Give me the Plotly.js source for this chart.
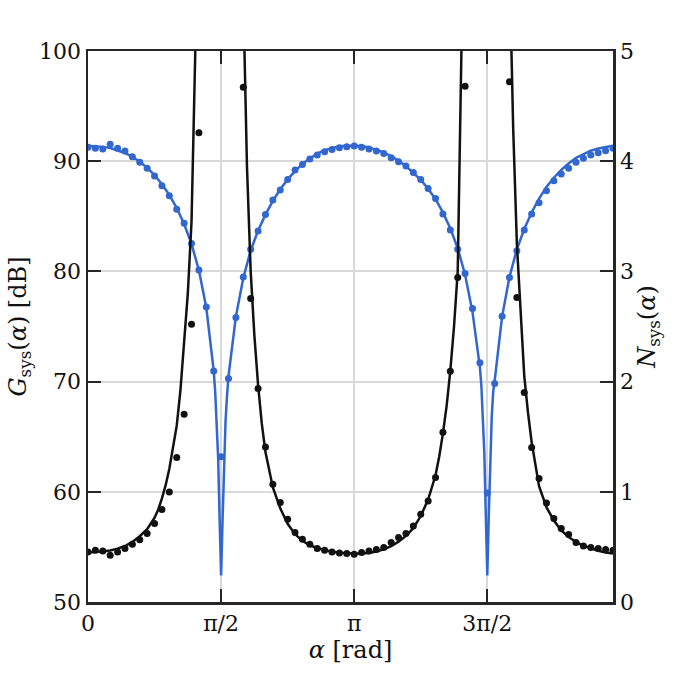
<!DOCTYPE html>
<html>
<head>
<meta charset="utf-8">
<script src="https://cdn.plot.ly/plotly-3.0.1.min.js"></script>
<style>
  html, body { margin: 0; padding: 0; background: #fff; }
  #plot { width: 677px; height: 677px; }
</style>
</head>
<body>
<div id="plot"></div>
<script>
// углы измерений, градусы (шаг 5°)
const dotDeg = [0,5,10,15,20,25,30,35,40,45,50,55,60,65,70,75,80,85,90,95,100,105,110,115,120,125,130,135,140,145,150,155,160,165,170,175,
  180,185,190,195,200,205,210,215,220,225,230,235,240,245,250,255,260,265,270,275,280,285,290,295,300,305,310,315,320,325,330,335,340,345,350,355];

// G_sys, измерения [dB]
const gainDots = [91.26,91.17,91.10,91.53,91.17,90.92,90.40,89.90,89.35,88.65,87.77,86.86,85.65,84.36,82.54,80.12,76.78,70.97,63.17,70.28,75.82,79.50,82.00,83.66,85.17,86.47,87.38,88.35,89.20,89.71,90.19,90.56,90.86,91.07,91.22,91.31,
  91.37,91.26,91.10,90.92,90.71,90.31,89.95,89.56,88.98,88.35,87.53,86.62,85.20,83.75,82.02,79.82,76.64,71.70,59.90,69.83,75.94,79.45,81.87,83.75,85.20,86.23,87.32,88.23,88.83,89.35,89.90,90.26,90.56,90.77,90.95,91.17];

// N_sys, измерения (null = за верхней границей)
const noiseDots = [0.454,0.469,0.463,0.424,0.454,0.485,0.524,0.566,0.621,0.712,0.839,0.999,1.311,1.704,2.521,4.258,null,null,null,null,null,4.67,2.755,1.937,1.407,1.069,0.902,0.751,0.630,0.569,0.524,0.485,0.469,0.454,0.445,0.439,
  0.433,0.450,0.463,0.476,0.494,0.539,0.585,0.621,0.690,0.796,0.917,1.129,1.54,2.095,2.945,4.68,null,null,null,null,null,4.72,2.764,1.90,1.402,1.12,0.899,0.757,0.666,0.612,0.539,0.509,0.494,0.485,0.476,0.469];

// теория G_sys
const gainLineDeg = [0,5,10,15,20,25,30,35,40,45,50,55,60,65,70,75,80,85,86,87,88,89,90,91,92,93,94,95,100,105,110,115,120,125,130,135,140,145,150,155,160,165,170,175,
  180,185,190,195,200,205,210,215,220,225,230,235,240,245,250,255,260,265,266,267,268,269,270,271,272,273,274,275,280,285,290,295,300,305,310,315,320,325,330,335,340,345,350,355];
const gainLine = [91.4,91.38,91.3,91.2,91.0,90.75,90.4,89.95,89.4,88.75,87.9,86.95,85.75,84.3,82.5,80.1,76.7,71.0,69.1,66.6,63.1,57.5,52.4,57.5,63.0,66.4,68.7,70.5,75.9,79.4,81.9,83.7,85.15,86.4,87.45,88.35,89.1,89.75,90.25,90.7,91.0,91.2,91.35,91.4,
  91.42,91.38,91.25,91.05,90.8,90.45,90.05,89.55,88.95,88.3,87.5,86.55,85.35,83.9,82.1,79.7,76.3,71.3,69.6,67.0,63.5,57.8,52.4,57.8,63.4,66.8,69.1,70.1,75.9,79.5,82.0,83.85,85.35,86.6,87.65,88.5,89.2,89.8,90.3,90.65,90.95,91.15,91.3,91.4];

// теория N_sys
const noiseLineDeg = [0,5,10,15,20,25,30,35,40,45,47.5,50,52.5,55,57.5,60,62.5,65,67.5,70,72.5,75,77.5,80,90,
  100,102.5,105,107.5,110,112.5,115,117.5,120,125,130,135,140,145,150,155,160,165,170,175,180,
  185,190,195,200,205,210,215,220,225,230,235,237.5,240,242.5,245,247.5,250,252.5,255,257.5,260,270,
  280,282.5,285,287.5,290,292.5,295,297.5,300,305,310,315,320,325,330,335,340,345,350,355];
const noiseLine = [0.45,0.452,0.458,0.468,0.484,0.508,0.545,0.597,0.66,0.765,0.84,0.94,1.06,1.21,1.39,1.6,1.92,2.32,2.8,3.45,4.5,5.9,8,11,60,
  11,7.8,5.5,3.95,3.0,2.42,1.97,1.62,1.36,1.04,0.85,0.71,0.615,0.555,0.515,0.49,0.47,0.455,0.447,0.442,0.44,
  0.44,0.445,0.458,0.478,0.508,0.548,0.60,0.67,0.78,0.93,1.15,1.32,1.53,1.78,2.1,2.5,3.0,4.4,6.2,8.5,11,60,
  11,8.0,5.8,4.3,3.25,2.6,2.05,1.72,1.45,1.05,0.86,0.74,0.65,0.59,0.545,0.51,0.485,0.465,0.45,0.44];

const xTickVals = [0, 90, 180, 270];
const xTickText = ['0', 'π/2', 'π', '3π/2'];

const blue = '#3167cf';
const ink = '#111111';
const frame = '#262626';
const fontFam = "'DejaVu Serif', serif";

const traces = [
  { x: gainLineDeg, y: gainLine, type: 'scatter', mode: 'lines', line: { color: blue, width: 2.5 }, yaxis: 'y', hoverinfo: 'skip' },
  { x: dotDeg, y: gainDots, type: 'scatter', mode: 'markers', marker: { color: blue, size: 7 }, yaxis: 'y' },
  { x: noiseLineDeg, y: noiseLine, type: 'scatter', mode: 'lines', line: { color: ink, width: 2.5 }, yaxis: 'y2', hoverinfo: 'skip' },
  { x: dotDeg, y: noiseDots, type: 'scatter', mode: 'markers', marker: { color: ink, size: 7 }, yaxis: 'y2' }
];

const layout = {
  width: 677,
  height: 677,
  autosize: false,
  showlegend: false,
  paper_bgcolor: '#ffffff',
  plot_bgcolor: '#ffffff',
  margin: { l: 88, r: 64, t: 51, b: 75 },
  font: { family: fontFam, size: 22, color: '#111' },
  xaxis: {
    range: [0, 355],
    tickvals: xTickVals,
    ticktext: xTickText,
    ticks: 'inside',
    ticklen: 13,
    tickwidth: 2,
    tickcolor: frame,
    showline: true,
    linewidth: 2.5,
    linecolor: frame,
    mirror: 'ticks',
    showgrid: true,
    gridcolor: '#d9d9d9',
    gridwidth: 2,
    zeroline: false,
    title: { text: '<i>α</i> [rad]', standoff: 4, font: { size: 24 } }
  },
  yaxis: {
    range: [50, 100],
    tickvals: [50, 60, 70, 80, 90, 100],
    ticks: 'inside',
    ticklen: 13,
    tickwidth: 2,
    tickcolor: frame,
    showline: true,
    linewidth: 2.5,
    linecolor: frame,
    showgrid: true,
    gridcolor: '#d9d9d9',
    gridwidth: 2,
    zeroline: false,
    title: { text: '<i>G</i><sub>sys</sub>(<i>α</i>) [dB]', standoff: 6, font: { size: 24 } }
  },
  yaxis2: {
    overlaying: 'y',
    side: 'right',
    range: [0, 5],
    tickvals: [0, 1, 2, 3, 4, 5],
    ticks: 'inside',
    ticklen: 13,
    tickwidth: 2,
    tickcolor: frame,
    showline: true,
    linewidth: 2.5,
    linecolor: frame,
    showgrid: false,
    zeroline: false,
    title: { text: '<i>N</i><sub>sys</sub>(<i>α</i>)', standoff: 6, font: { size: 24 } }
  }
};

Plotly.newPlot('plot', traces, layout, { displayModeBar: false, staticPlot: true });
</script>
</body>
</html>
